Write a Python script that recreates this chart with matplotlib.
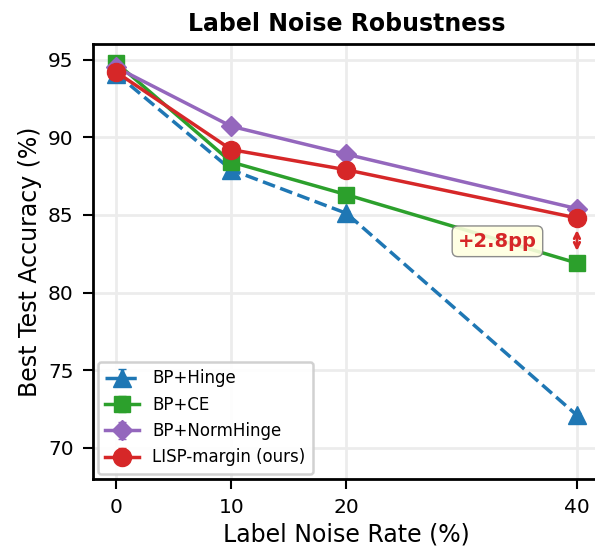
import matplotlib
matplotlib.use('Agg')
import matplotlib.pyplot as plt

noise = [0, 10, 20, 40]

hinge = [94.1, 87.9, 85.1, 72.1]
ce = [94.8, 88.4, 86.3, 81.9]
normhinge = [94.5, 90.7, 88.9, 85.4]
lisp = [94.2, 89.2, 87.9, 84.8]

err = [0.15, 0.15, 0.15, 0.15]

fig, ax = plt.subplots(figsize=(5.95, 5.54), dpi=100)

ax.errorbar(noise, hinge, yerr=err, fmt='--^', color='#1f77b4', lw=2.5, ms=13, capsize=3, label='BP+Hinge')
ax.errorbar(noise, ce, yerr=err, fmt='-s', color='#2ca02c', lw=2.5, ms=12, capsize=3, label='BP+CE')
ax.errorbar(noise, normhinge, yerr=err, fmt='-D', color='#9467bd', lw=2.5, ms=10, capsize=3, label='BP+NormHinge')
ax.errorbar(noise, lisp, yerr=err, fmt='-o', color='#d62728', lw=2.5, ms=13, capsize=3, label='LISP-margin (ours)')

ax.annotate('', xy=(40, ce[3] + 0.6), xytext=(40, lisp[3] - 0.6),
            arrowprops=dict(arrowstyle='<->', color='#d62728', lw=2))
ax.text(33.1, 83.3, '+2.8pp', fontsize=14, fontweight='bold', color='#d62728',
        ha='center', va='center',
        bbox=dict(boxstyle='round,pad=0.3', facecolor='#ffffe0', edgecolor='gray', alpha=0.9))

ax.set_xlim(-2, 42)
ax.set_ylim(68.0, 96.0)
ax.set_xticks(noise)
ax.set_yticks([70, 75, 80, 85, 90, 95])
ax.tick_params(labelsize=14.5, width=1.5, length=7, pad=7)
ax.set_xlabel('Label Noise Rate (%)', fontsize=17)
ax.set_ylabel('Best Test Accuracy (%)', fontsize=17)
ax.set_title('Label Noise Robustness', fontsize=17, fontweight='bold', pad=9)
ax.grid(True, color='#ececec', lw=2)
ax.set_axisbelow(True)
for s in ax.spines.values():
    s.set_linewidth(2)

leg = ax.legend(loc='lower left', fontsize=12, framealpha=0.9, edgecolor='#cccccc',
                labelspacing=0.5, borderpad=0.45, borderaxespad=0.3)
leg.get_frame().set_linewidth(1.8)

# the original was cropped tight, the right spine falls just outside the canvas
fig.subplots_adjust(left=0.1563, right=1.0084, top=0.9206, bottom=0.1354)
fig.savefig('out.png', dpi=100)
